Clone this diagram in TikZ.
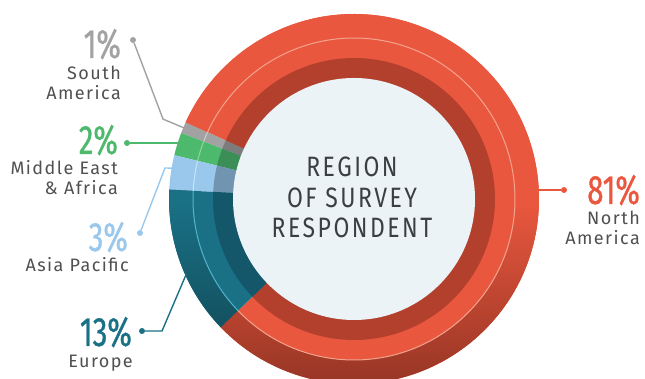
\documentclass[tikz,border=0pt]{standalone}
\usepackage{fontspec}
\setmainfont{Fira Sans}
\newfontfamily\pctfont{Fira Sans}[FakeStretch=0.72, FakeBold=0.8]
\newfontfamily\titlefont{Fira Sans}[FakeStretch=0.82, LetterSpace=9]
\newfontfamily\lblfont{Fira Sans}[LetterSpace=8]

\definecolor{naouter}{HTML}{E9573E}
\definecolor{nainner}{HTML}{B2402D}
\definecolor{naline}{HTML}{F3A48E}
\definecolor{nadark}{HTML}{8E3222}
\definecolor{saouter}{HTML}{A2A2A2}
\definecolor{sainner}{HTML}{7C7C7C}
\definecolor{saline}{HTML}{CFCFCF}
\definecolor{meouter}{HTML}{4DB96C}
\definecolor{meinner}{HTML}{3B8E55}
\definecolor{meline}{HTML}{8ED6A2}
\definecolor{apouter}{HTML}{9AC8EC}
\definecolor{apinner}{HTML}{7194B0}
\definecolor{apline}{HTML}{C9E4F7}
\definecolor{euouter}{HTML}{1A7186}
\definecolor{euinner}{HTML}{14566A}
\definecolor{euline}{HTML}{52B5CB}
\definecolor{eudark}{HTML}{135160}
\definecolor{hole}{HTML}{EBF3F7}
\definecolor{lbltext}{HTML}{505050}
\definecolor{titletext}{HTML}{3B3F42}

% rims get darker towards the bottom of the ring
\pgfdeclareverticalshading{narim}{100bp}{color(0bp)=(nadark); color(25bp)=(nadark); color(50bp)=(naouter); color(100bp)=(naouter)}
\pgfdeclareverticalshading{eurim}{100bp}{color(0bp)=(eudark); color(25bp)=(eudark); color(71.6bp)=(euouter); color(100bp)=(euouter)}

\begin{document}
\begin{tikzpicture}[x=1pt, y=1pt,
  pct/.style={anchor=base east, inner sep=0pt, font=\pctfont\fontsize{41}{41}\selectfont},
  lbl/.style={anchor=base east, inner sep=0pt, align=right, text=lbltext, font=\lblfont\fontsize{18}{20}\selectfont},
  dot/.style={circle, inner sep=0pt, minimum size=6pt},
  conn/.style={line width=1.4pt}]

\useasboundingbox (0,0) rectangle (645,379);

%% The ring, centred on the hole
\begin{scope}[shift={(354,180)}]

% outer band
\fill [naouter] (0,0) -- (-136.1:185) arc [start angle=-136.1, end angle=155.5, radius=185] -- cycle;
\fill [saouter] (0,0) -- (155.5:185) arc [start angle=155.5, end angle=159.1, radius=185] -- cycle;
\fill [meouter] (0,0) -- (159.1:185) arc [start angle=159.1, end angle=166.3, radius=185] -- cycle;
\fill [apouter] (0,0) -- (166.3:185) arc [start angle=166.3, end angle=177.1, radius=185] -- cycle;
\fill [euouter] (0,0) -- (177.1:185) arc [start angle=177.1, end angle=223.9, radius=185] -- cycle;

% darker rim outside the thin line
\shade [shading=narim] (-136.1:185) arc [start angle=-136.1, end angle=155.5, radius=185]
  -- (155.5:161) arc [start angle=155.5, end angle=-136.1, radius=161] -- cycle;
\shade [shading=eurim] (177.1:185) arc [start angle=177.1, end angle=223.9, radius=185]
  -- (223.9:161) arc [start angle=223.9, end angle=177.1, radius=161] -- cycle;

% inner band
\fill [nainner] (0,0) -- (-136.1:141) arc [start angle=-136.1, end angle=155.5, radius=141] -- cycle;
\fill [sainner] (0,0) -- (155.5:141) arc [start angle=155.5, end angle=159.1, radius=141] -- cycle;
\fill [meinner] (0,0) -- (159.1:141) arc [start angle=159.1, end angle=166.3, radius=141] -- cycle;
\fill [apinner] (0,0) -- (166.3:141) arc [start angle=166.3, end angle=177.1, radius=141] -- cycle;
\fill [euinner] (0,0) -- (177.1:141) arc [start angle=177.1, end angle=223.9, radius=141] -- cycle;

% thin lines inside the outer band
\draw [naline, line width=1pt] (-136.1:161) arc [start angle=-136.1, end angle=155.5, radius=161];
\draw [saline, line width=1pt] (155.5:161) arc [start angle=155.5, end angle=159.1, radius=161];
\draw [meline, line width=1pt] (159.1:161) arc [start angle=159.1, end angle=166.3, radius=161];
\draw [apline, line width=1pt] (166.3:161) arc [start angle=166.3, end angle=177.1, radius=161];
\draw [euline, line width=1pt] (177.1:161) arc [start angle=177.1, end angle=223.9, radius=161];

% hole
\fill [hole] (0,0) circle [radius=121];

% where the connectors meet the ring
\coordinate (sa bend) at (157.3:207);
\coordinate (sa end) at (157.3:184);
\coordinate (me end) at (162.7:180);
\coordinate (ap end) at (170.3:183);
\coordinate (eu end) at (204.2:184);
\coordinate (na end) at (3.1:184);

\end{scope}

% title
\node (title) at (352, 141) [anchor=base, align=center, inner sep=0pt, text=titletext,
  font=\titlefont\fontsize{28}{30.5}\selectfont] {REGION\\OF SURVEY\\RESPONDENT};

% South America
\node (sa pct) at (121, 321) [pct, text=saouter] {1\%};
\node (sa lbl) at (121, 279) [lbl] {South\\America};
\node (sa dot) at (133, 339) [dot, fill=saouter] {};
\draw [conn, saouter] (sa dot) -- (sa bend) -- (sa end);

% Middle East & Africa
\node (me pct) at (118, 225) [pct, text=meouter] {2\%};
\node (me lbl) at (118, 184) [lbl] {Middle East\\\& Africa};
\node (me dot) at (127, 236) [dot, fill=meouter] {};
\draw [conn, meouter] (me dot) -- (me dot -| me end);

% Asia Pacific
\node (ap pct) at (128, 128) [pct, text=apouter] {3\%};
\node (ap lbl) at (129, 107) [lbl] {Asia Pacific};
\node (ap dot) at (140, 146) [dot, fill=apouter] {};
\coordinate (ap bend) at (165, 211);
\draw [conn, apouter] (ap dot) -- (ap bend) -- (ap end);

% Europe
\node (eu pct) at (132, 33) [pct, text=euouter] {13\%};
\node (eu lbl) at (133, 11) [lbl] {Europe};
\node (eu dot) at (142, 48) [dot, fill=euouter] {};
\coordinate (eu bend) at (162, 48);
\draw [conn, euouter] (eu dot) -- (eu bend) -- (eu end);

% North America
\node (na pct) at (640, 175) [pct, text=naouter] {81\%};
\node (na lbl) at (640, 134) [lbl] {North\\America};
\node (na dot) at (564, 189) [dot, fill=naouter] {};
\draw [conn, naouter] (na dot) -- (na dot -| na end);

\end{tikzpicture}
\end{document}
